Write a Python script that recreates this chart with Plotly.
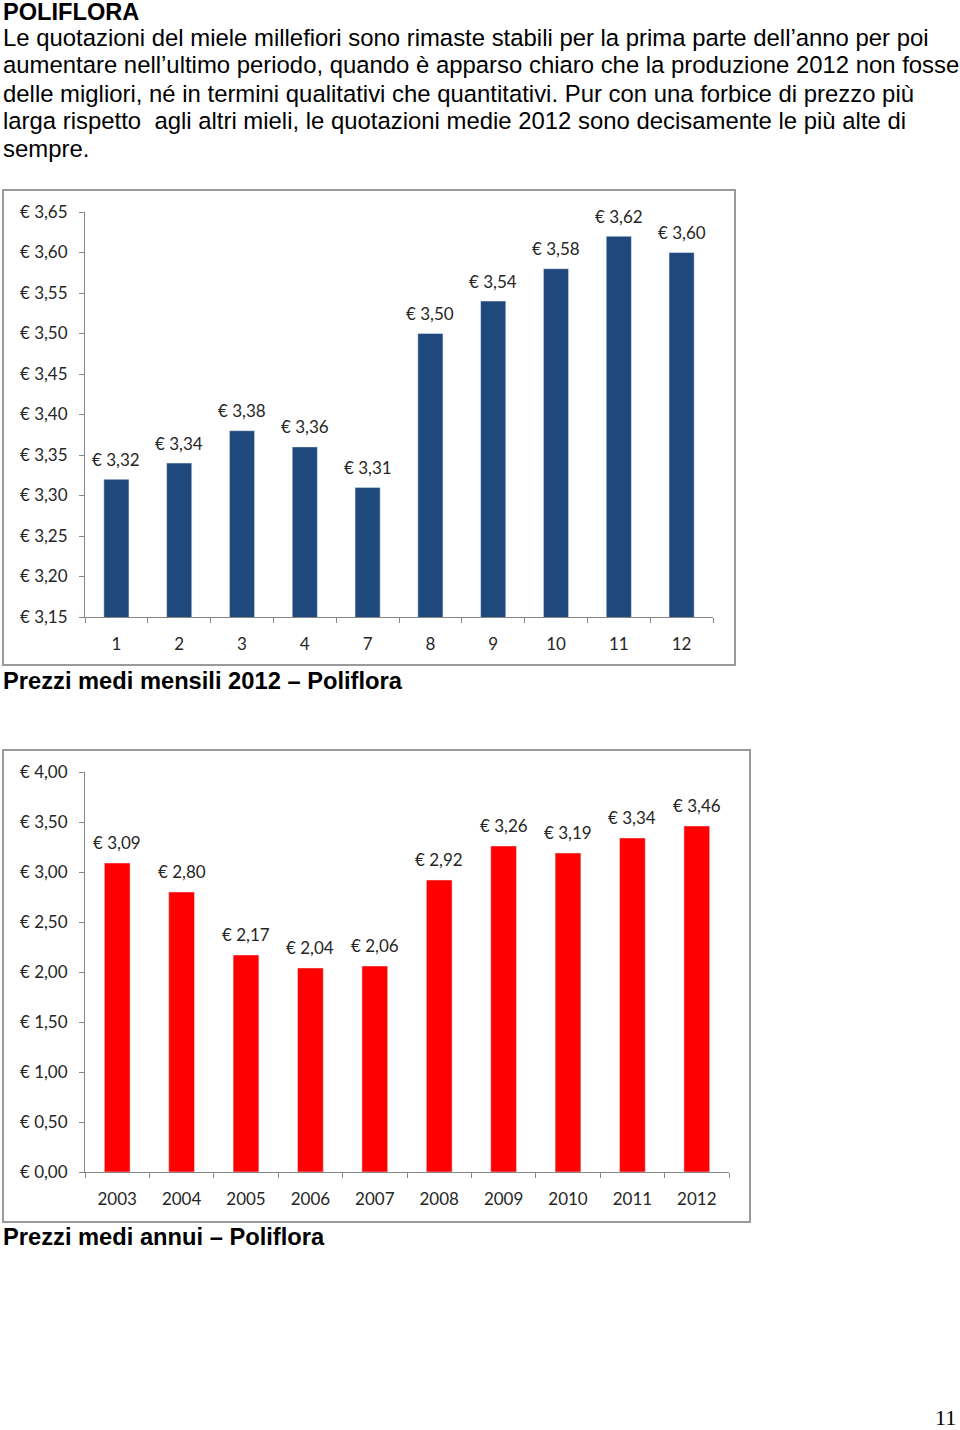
import plotly.graph_objects as go

# ---- data ----
months = ["1", "2", "3", "4", "7", "8", "9", "10", "11", "12"]
monthly_prices = [3.32, 3.34, 3.38, 3.36, 3.31, 3.50, 3.54, 3.58, 3.62, 3.60]

years = ["2003", "2004", "2005", "2006", "2007", "2008", "2009", "2010", "2011", "2012"]
annual_prices = [3.09, 2.80, 2.17, 2.04, 2.06, 2.92, 3.26, 3.19, 3.34, 3.46]

title_text = "POLIFLORA"
paragraph_lines = [
    "Le quotazioni del miele millefiori sono rimaste stabili per la prima parte dell\u2019anno per poi",
    "aumentare nell\u2019ultimo periodo, quando è apparso chiaro che la produzione 2012 non fosse",
    "delle migliori, né in termini qualitativi che quantitativi. Pur con una forbice di prezzo più",
    "larga rispetto \u00a0agli altri mieli, le quotazioni medie 2012 sono decisamente le più alte di",
    "sempre.",
]
caption1 = "Prezzi medi mensili 2012 \u2013 Poliflora"
caption2 = "Prezzi medi annui \u2013 Poliflora"
page_number = "11"

W, H = 960, 1430


def px_x(p):
    return p / W


def px_y(p):
    return 1 - p / H


def euro(v):
    return "\u20ac " + f"{v:.2f}".replace(".", ",")


BLUE = "#1F497D"
RED = "#FF0000"
AXIS = "#868686"
TXT = "#262626"
TICKFONT = dict(family="Lato, Carlito, sans-serif", size=17, color=TXT)

fig = go.Figure()
fig.add_trace(go.Bar(x=months, y=monthly_prices, marker_color=BLUE, width=0.4,
                     xaxis="x", yaxis="y", showlegend=False, hoverinfo="x+y"))
fig.add_trace(go.Bar(x=years, y=annual_prices, marker_color=RED, width=0.4,
                     xaxis="x2", yaxis="y2", showlegend=False, hoverinfo="x+y"))

axis_common = dict(showgrid=False, zeroline=False, showline=True, linecolor=AXIS,
                   linewidth=1, ticks="outside", ticklen=5, tickcolor=AXIS,
                   tickfont=TICKFONT, fixedrange=True, automargin=False)

fig.update_layout(
    width=W, height=H, autosize=False,
    margin=dict(l=0, r=0, t=0, b=0, pad=0, autoexpand=False),
    paper_bgcolor="white", plot_bgcolor="white",
    separators=",.",
    xaxis=dict(domain=[px_x(85), px_x(713)], anchor="y", type="category",
               range=[-0.5, len(months) - 0.5],
               tickson="boundaries", ticklabelstandoff=12, **axis_common),
    yaxis=dict(domain=[px_y(617), px_y(212)], anchor="x", range=[3.15, 3.65],
               dtick=0.05, tick0=3.15, tickformat=".2f", tickprefix="\u20ac ",
               ticklabelstandoff=8, **axis_common),
    xaxis2=dict(domain=[px_x(85), px_x(729)], anchor="y2", type="category",
                range=[-0.5, len(years) - 0.5],
                tickson="boundaries", ticklabelstandoff=12, **axis_common),
    yaxis2=dict(domain=[px_y(1172), px_y(772)], anchor="x2", range=[0, 4],
                dtick=0.5, tick0=0, tickformat=".2f", tickprefix="\u20ac ",
                ticklabelstandoff=8, **axis_common),
    bargap=0.6,
)

annotations = []
# data labels (category axes: position by category index)
for i, v in enumerate(monthly_prices):
    annotations.append(dict(x=i, y=v, xref="x", yref="y", text=euro(v), showarrow=False,
                            yanchor="middle", yshift=20, font=TICKFONT))
for i, v in enumerate(annual_prices):
    annotations.append(dict(x=i, y=v, xref="x2", yref="y2", text=euro(v), showarrow=False,
                            yanchor="middle", yshift=20, font=TICKFONT))

# page text
annotations.append(dict(x=px_x(1), y=px_y(12), xref="paper", yref="paper", text="<b>" + title_text + "</b>",
                        showarrow=False, xanchor="left", yanchor="middle",
                        font=dict(family="Liberation Sans, Arial, sans-serif", size=23.6, color="black")))
line_y = [38, 65, 93, 120, 148]
for ly, t in zip(line_y, paragraph_lines):
    annotations.append(dict(x=px_x(1), y=px_y(ly), xref="paper", yref="paper", text=t,
                            showarrow=False, xanchor="left", yanchor="middle",
                            font=dict(family="Liberation Sans, Arial, sans-serif", size=23.9, color="black")))
cap_font = dict(family="Liberation Sans Narrow, Arial Narrow, Liberation Sans, sans-serif", size=23.7, color="black")
annotations.append(dict(x=px_x(1), y=px_y(681), xref="paper", yref="paper", text="<b>" + caption1 + "</b>",
                        showarrow=False, xanchor="left", yanchor="middle", font=cap_font))
annotations.append(dict(x=px_x(1), y=px_y(1237), xref="paper", yref="paper", text="<b>" + caption2 + "</b>",
                        showarrow=False, xanchor="left", yanchor="middle", font=cap_font))
annotations.append(dict(x=px_x(957), y=px_y(1417), xref="paper", yref="paper", text=page_number,
                        showarrow=False, xanchor="right", yanchor="middle", height=22, borderpad=0,
                        font=dict(family="Liberation Serif, Times New Roman, serif", size=22, color="black")))
fig.update_layout(annotations=annotations)

# chart frames
frame = dict(type="rect", xref="paper", yref="paper", line=dict(color="#9A9A9A", width=2),
             fillcolor="rgba(0,0,0,0)", layer="below")
fig.update_layout(shapes=[
    dict(frame, x0=px_x(3), x1=px_x(735), y0=px_y(665), y1=px_y(190)),
    dict(frame, x0=px_x(3), x1=px_x(750), y0=px_y(1222), y1=px_y(750)),
])

fig.write_html("out.html", config={"responsive": False, "displayModeBar": False},
               post_script="document.body.style.margin='0';document.body.style.padding='0';"
                           "document.body.style.overflow='hidden';")
